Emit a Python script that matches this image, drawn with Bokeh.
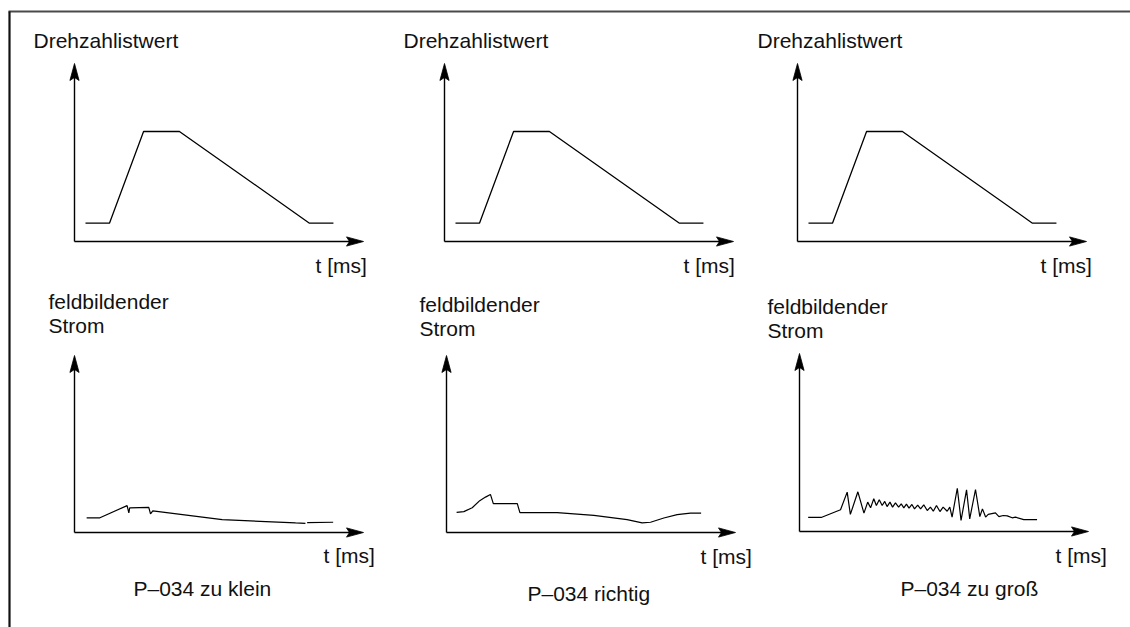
from bokeh.plotting import figure
from bokeh.models import Range1d, Label
from bokeh.embed import file_html
from bokeh.resources import INLINE

nan = float("nan")

# ---------------- data (time in % of axis length, value in % of axis height)
speed_t = [3.8, 12.1, 23.9, 36.3, 81.3, 89.6]
speed_n = [10.3, 10.3, 61.8, 61.8, 10.3, 10.3]

small_t = [4.2, 8.8, 18.2, 18.8, 19.1, 25.7, 26.3, 27.1, 51.1, 76.5, 79.9, nan, 80.5, 89.5]
small_i = [8.3, 8.3, 15.2, 11.1, 13.9, 14.2, 10.5, 12.2, 7.3, 5.4, 5.2, nan, 5.6, 5.8]

right_t = [3.5, 6.0, 8.9, 11.5, 13.5, 15.2, 16.2, 24.5, 25.4, 38.3, 51.0, 62.5, 67.7,
           70.6, 75.2, 79.8, 84.4, 88.1]
right_i = [11.4, 11.8, 14.0, 18.0, 20.0, 21.5, 16.3, 16.3, 11.2, 11.2, 9.7, 7.3, 5.4,
           5.8, 8.2, 10.1, 11.0, 11.0]

big_t = [3.0, 7.5, 14.2, 16.5, 17.6, 20.2, 22.3, 23.6, 24.6, 25.7, 26.6, 27.6, 28.6, 29.5,
         30.3, 31.3, 32.2, 33.2, 34.3, 35.2, 36.1, 37.0, 37.9, 38.9, 39.8, 40.9, 41.9, 43.0,
         44.2, 45.3, 46.3, 47.4, 48.6, 49.7, 51.1, 52.0, 52.8, 54.6, 55.9, 57.8, 58.9, 60.9,
         62.4, 63.3, 64.4, 65.3, 67.8, 69.0, 70.5, 71.9, 73.6, 74.7, 77.6, 82.2]
big_i = [7.9, 7.9, 12.2, 22.1, 9.6, 22.3, 10.3, 16.5, 13.3, 18.4, 14.6, 17.8, 14.6, 16.9,
         14.0, 16.5, 13.7, 16.1, 13.7, 15.5, 13.3, 15.4, 13.1, 15.2, 12.7, 14.8, 12.7, 15.0,
         11.8, 13.7, 11.4, 14.6, 11.2, 13.7, 11.4, 13.7, 8.1, 24.3, 6.2, 23.4, 7.1, 23.6,
         8.4, 12.7, 8.1, 9.6, 10.5, 8.4, 9.0, 8.8, 7.7, 8.1, 6.7, 6.7]

top_label = "Drehzahlistwert"
bottom_label = ["feldbildender", "Strom"]
time_label = "t [ms]"
captions = ["P\u2013034 zu klein", "P\u2013034 richtig", "P\u2013034 zu gro\u00df"]

# ---------------- layout (1 unit = 1 px, origin bottom-left of page)
W, H = 1130, 627
FONT = "Liberation Sans"
FS = "21px"

p = figure(width=W, height=H, x_range=Range1d(0, W), y_range=Range1d(0, H),
           output_backend="svg", toolbar_location=None, min_border=0,
           x_axis_location=None, y_axis_location=None, outline_line_color=None,
           background_fill_color="white", border_fill_color="white")
p.grid.visible = False

# outer frame (top and left)
p.line([8, W], [616, 616], line_color="#4a4a4a", line_width=2.2)
p.line([9, 9], [616, 0], line_color="#111111", line_width=2.2)

AX_W = 289

top_panels = [  # (axis origin X, Y, axis height, title x, tms x)
    (74, 386, 178, 33, 315),
    (444, 386, 178, 403, 683),
    (797, 386, 178, 757, 1040),
]
bot_panels = [  # (X0, Y0, height, label x, label baseline, tms x, tms y, caption x, caption y)
    (74, 95, 177, 48, 326, 323, 72, 133, 39),
    (446, 95, 177, 419, 323, 700, 71, 527, 34),
    (799, 96, 178, 767, 321, 1055, 72, 900, 39),
]
bot_series = [(small_t, small_i), (right_t, right_i), (big_t, big_i)]


def axes(X0, Y0, h):
    tipx, tipy = X0 + AX_W, Y0 + h
    p.line([X0, X0], [Y0, tipy - 8], line_color="black", line_width=1.4)
    p.line([X0, tipx - 8], [Y0, Y0], line_color="black", line_width=1.4)
    p.patches(
        [[X0, X0 + 4.6, X0, X0 - 4.6], [tipx, tipx - 17, tipx - 14, tipx - 17]],
        [[tipy, tipy - 17, tipy - 14, tipy - 17], [Y0, Y0 + 4.6, Y0, Y0 - 4.6]],
        fill_color="black", line_color="black", line_width=0.8)


def label(x, y, text):
    p.add_layout(Label(x=x, y=y, text=text, text_font=FONT, text_font_size=FS,
                       text_color="#111111", text_baseline="alphabetic",
                       text_align="left"))


for (X0, Y0, h, tx, mx) in top_panels:
    axes(X0, Y0, h)
    sub = p.subplot(x_source=Range1d(0, 100), y_source=Range1d(0, 100),
                    x_target=Range1d(X0, X0 + AX_W), y_target=Range1d(Y0, Y0 + h))
    sub.line(speed_t, speed_n, line_color="black", line_width=1.3)
    label(tx, 587, top_label)
    label(mx, 362, time_label)

for (X0, Y0, h, lx, ly, mx, my, cx, cy), (ts, vs), cap in zip(bot_panels, bot_series, captions):
    axes(X0, Y0, h)
    sub = p.subplot(x_source=Range1d(0, 100), y_source=Range1d(0, 100),
                    x_target=Range1d(X0, X0 + AX_W), y_target=Range1d(Y0, Y0 + h))
    sub.line(ts, vs, line_color="black", line_width=1.2)
    label(lx, ly, bottom_label[0])
    label(lx, ly - 24, bottom_label[1])
    label(mx, my, time_label)
    label(cx, cy, cap)

open("out.html", "w").write(file_html(p, INLINE))
